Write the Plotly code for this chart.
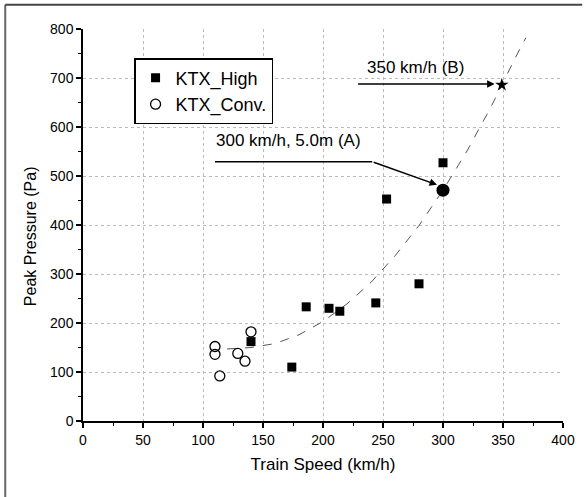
import plotly.graph_objects as go

# KTX_High measurements
high_speed = [140, 174, 186, 205, 214, 244, 253, 280, 300]
high_pressure = [162, 110, 233, 230, 224, 241, 453, 280, 527]

# KTX_Conv. measurements
conv_speed = [110, 110, 114, 129, 135, 140]
conv_pressure = [152, 136, 92, 138, 122, 182]

# fitted trend
fit_speed = [120, 130, 140, 160, 180, 200, 220, 240, 260, 280, 300, 320, 340, 360, 369]
fit_pressure = [147, 148, 150, 158, 176, 203, 239, 283, 337, 399, 471, 551, 641, 740, 782]

# highlighted points
point_a = (300, 471)
point_b = (349, 686)

x_ticks = [0, 50, 100, 150, 200, 250, 300, 350, 400]
y_ticks = [0, 100, 200, 300, 400, 500, 600, 700, 800]

FONT = "Liberation Sans, Arial, sans-serif"

fig = go.Figure()

fig.add_trace(go.Scatter(
    x=fit_speed, y=fit_pressure, mode="lines",
    line=dict(color="#555555", width=1, dash="dash"),
    showlegend=False, hoverinfo="skip"))

fig.add_trace(go.Scatter(
    x=high_speed, y=high_pressure, mode="markers", name="KTX_High",
    marker=dict(symbol="square", size=9, color="black")))

fig.add_trace(go.Scatter(
    x=conv_speed, y=conv_pressure, mode="markers", name="KTX_Conv.",
    marker=dict(symbol="circle-open", size=10, color="black", line=dict(width=1.3))))

fig.add_trace(go.Scatter(
    x=[point_a[0]], y=[point_a[1]], mode="markers", showlegend=False,
    marker=dict(symbol="circle", size=13, color="black")))

fig.add_trace(go.Scatter(
    x=[point_b[0]], y=[point_b[1]], mode="markers", showlegend=False,
    marker=dict(symbol="star", size=10, color="black")))

# annotation B
fig.add_annotation(x=343, y=688, ax=228, ay=688, xref="x", yref="y", axref="x", ayref="y",
                   text="", showarrow=True, arrowhead=2, arrowsize=1, arrowwidth=1.5, arrowcolor="black")
fig.add_annotation(x=277, y=722, xref="x", yref="y", text="350 km/h (B)", showarrow=False,
                   font=dict(family=FONT, size=17, color="black"))

# annotation A
fig.add_shape(type="line", x0=110, y0=529, x1=241, y1=529, xref="x", yref="y",
              line=dict(color="black", width=1.5))
fig.add_annotation(x=295, y=482, ax=241, ay=529, xref="x", yref="y", axref="x", ayref="y",
                   text="", showarrow=True, arrowhead=2, arrowsize=1, arrowwidth=1.5, arrowcolor="black")
fig.add_annotation(x=109, y=549, xref="x", yref="y", text="300 km/h, 5.0m (A)", showarrow=False,
                   xanchor="left", yanchor="bottom", font=dict(family=FONT, size=17, color="black"))

# y-axis title
fig.add_annotation(x=-0.108, y=0.472, xref="paper", yref="paper", text="Peak Pressure (Pa)",
                   showarrow=False, textangle=-90, xanchor="center", yanchor="middle",
                   font=dict(family=FONT, size=16, color="black"))

# outer frame (left and top edges)
fig.add_shape(type="line", xref="paper", yref="paper", x0=-0.162, x1=-0.162, y0=-0.2, y1=1.062,
              line=dict(color="#666666", width=2))
fig.add_shape(type="line", xref="paper", yref="paper", x0=-0.162, x1=1.04, y0=1.062, y1=1.062,
              line=dict(color="#444444", width=2))

axis_common = dict(
    showline=True, linecolor="black", linewidth=1.5,
    ticks="outside", ticklen=5, tickwidth=1.5, tickcolor="black",
    showgrid=True, gridcolor="#bbbbbb", griddash="dot", gridwidth=1,
    zeroline=False, automargin=False,
    tickfont=dict(family=FONT, size=14, color="black"),
    title_font=dict(family=FONT, size=17, color="black"),
)

fig.update_xaxes(range=[0, 400], tickvals=x_ticks, title_text="Train Speed (km/h)",
                 minor=dict(ticks="outside", ticklen=3, tickwidth=1.2, tickcolor="black", dtick=25),
                 title_standoff=12, **axis_common)
fig.update_yaxes(range=[0, 800], tickvals=y_ticks,
                 minor=dict(ticks="outside", ticklen=3, tickwidth=1.2, tickcolor="black", dtick=50),
                 **axis_common)

fig.update_layout(
    width=585, height=497,
    margin=dict(l=83, r=22, t=29, b=76),
    paper_bgcolor="white", plot_bgcolor="white",
    font=dict(family=FONT, color="black"),
    legend=dict(x=0.107, y=0.925, xanchor="left", yanchor="top",
                bordercolor="black", borderwidth=1.2, bgcolor="white",
                font=dict(family=FONT, size=18, color="black"),
                itemwidth=30, tracegroupgap=0,
                entrywidth=120, entrywidthmode="pixels"),
)

fig.write_html("out.html", config={"displayModeBar": False},
               post_script="document.body.style.margin='0';")
